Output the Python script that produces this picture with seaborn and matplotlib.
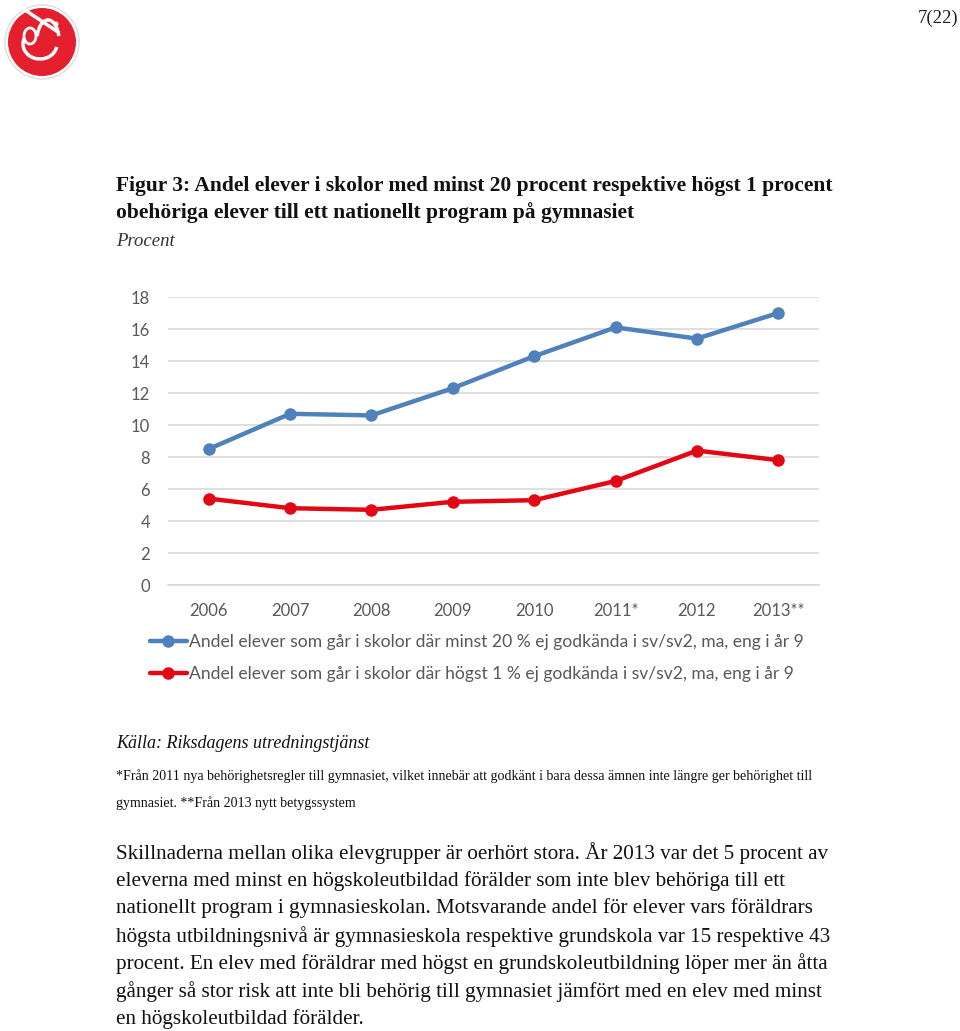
import matplotlib
matplotlib.use("Agg")
import matplotlib.pyplot as plt
import seaborn as sns
import pandas as pd
from matplotlib.patches import Circle, Arc
from matplotlib.lines import Line2D

years = ["2006", "2007", "2008", "2009", "2010", "2011*", "2012", "2013**"]
blue_vals = [8.5, 10.7, 10.6, 12.3, 14.3, 16.1, 15.4, 17.0]
red_vals = [5.4, 4.8, 4.7, 5.2, 5.3, 6.5, 8.4, 7.8]
series_names = [
    "Andel elever som går i skolor där minst 20 % ej godkända i sv/sv2, ma, eng i år 9",
    "Andel elever som går i skolor där högst 1 % ej godkända i sv/sv2, ma, eng i år 9",
]
yticks = [0, 2, 4, 6, 8, 10, 12, 14, 16, 18]

sns.set_theme(style="white")
plt.rcParams['font.family'] = ['Lato', 'DejaVu Sans']

df = pd.DataFrame({
    "year": years * 2,
    "value": blue_vals + red_vals,
    "series": [series_names[0]] * len(years) + [series_names[1]] * len(years),
})

BLUE = "#4F81BD"
RED = "#E30613"

fig = plt.figure(figsize=(9.6, 10.31), dpi=100)
ax = fig.add_axes([168/960, 1-585/1031, 651/960, 288/1031])

sns.lineplot(data=df, x="year", y="value", hue="series", palette=[BLUE, RED],
             marker="o", markersize=9, markeredgewidth=0, linewidth=3.2,
             sort=False, ax=ax, legend=False)

ax.set_xlim(-0.5, len(years) - 0.5)
ax.set_ylim(0, 18)
ax.set_yticks(yticks)
ax.set_yticklabels([str(t) for t in yticks])
ax.set_xlabel("")
ax.set_ylabel("")
for s in ["top", "right", "left"]:
    ax.spines[s].set_visible(False)
ax.spines["bottom"].set_color("#D9D9D9")
ax.spines["bottom"].set_linewidth(1.2)
ax.yaxis.grid(True, color="#D9D9D9", linewidth=1.2)
ax.set_axisbelow(True)
ax.tick_params(axis="y", length=0, labelsize=12, labelcolor="#595959", pad=13)
ax.tick_params(axis="x", length=0, labelsize=12, labelcolor="#595959", pad=13)
# category boundary ticks
ax.set_xticks([i - 0.5 for i in range(len(years) + 1)], minor=True)
ax.tick_params(axis="x", which="minor", length=5, color="#D9D9D9", width=1.2)

handles = [Line2D([], [], color=BLUE, lw=3.2, marker="o", markersize=9, markeredgewidth=0),
           Line2D([], [], color=RED, lw=3.2, marker="o", markersize=9, markeredgewidth=0)]
fig.legend(handles, series_names, loc="upper left",
           bbox_to_anchor=(150/960, 1-634/1031), bbox_transform=fig.transFigure,
           frameon=False, fontsize=12.6, labelcolor="#595959",
           handlelength=2.1, handletextpad=0.15, labelspacing=0.92,
           borderpad=0, borderaxespad=0)

serif = ['Liberation Serif', 'DejaVu Serif']

# Page number
fig.text(958/960, 1-18/1031, "7(22)", ha="right", va="center", fontsize=13.5,
         family=serif, color="#222222")

# Title
fig.text(116/960, 1-186/1031,
         "Figur 3: Andel elever i skolor med minst 20 procent respektive högst 1 procent",
         ha="left", va="center", fontsize=15.5, fontweight="bold", family=serif, color="#111111")
fig.text(116/960, 1-213/1031,
         "obehöriga elever till ett nationellt program på gymnasiet",
         ha="left", va="center", fontsize=15.5, fontweight="bold", family=serif, color="#111111")
fig.text(116/960, 1-241/1031, "Procent", ha="left", va="center", fontsize=13.5,
         style="italic", family=serif, color="#333333")

# Source and footnotes
fig.text(116/960, 1-744/1031, "Källa: Riksdagens utredningstjänst", ha="left", va="center",
         fontsize=13.0, style="italic", family=serif, color="#111111")
fig.text(116/960, 1-776/1031,
         "*Från 2011 nya behörighetsregler till gymnasiet, vilket innebär att godkänt i bara dessa ämnen inte längre ger behörighet till",
         ha="left", va="center", fontsize=10.1, family=serif, color="#111111")
fig.text(116/960, 1-803/1031, "gymnasiet. **Från 2013 nytt betygssystem",
         ha="left", va="center", fontsize=10.1, family=serif, color="#111111")

para = [
    "Skillnaderna mellan olika elevgrupper är oerhört stora. År 2013 var det 5 procent av",
    "eleverna med minst en högskoleutbildad förälder som inte blev behöriga till ett",
    "nationellt program i gymnasieskolan. Motsvarande andel för elever vars föräldrars",
    "högsta utbildningsnivå är gymnasieskola respektive grundskola var 15 respektive 43",
    "procent. En elev med föräldrar med högst en grundskoleutbildning löper mer än åtta",
    "gånger så stor risk att inte bli behörig till gymnasiet jämfört med en elev med minst",
    "en högskoleutbildad förälder.",
]
for i, line in enumerate(para):
    y = 853 + i * 27.7
    fig.text(116/960, 1-y/1031, line, ha="left", va="center", fontsize=15.2,
             family=serif, color="#111111")

# Logo (simple rose emblem)
lax = fig.add_axes([0/960, 1-82/1031, 82/960, 82/1031])
lax.set_xlim(0, 82)
lax.set_ylim(82, 0)
lax.set_aspect("equal")
lax.axis("off")
lax.add_patch(Circle((42, 42), 37, facecolor="white", edgecolor="#DDDDDD", lw=1))
lax.add_patch(Circle((42, 42), 34, facecolor="#E4202E", edgecolor="none"))
lax.add_patch(Arc((40, 44), 34, 30, theta1=10, theta2=200, color="white", lw=2.5))
lax.add_patch(Arc((30, 36), 12, 16, theta1=0, theta2=360, color="white", lw=2))
lax.add_patch(Arc((48, 40), 22, 40, theta1=200, theta2=340, color="white", lw=2.5))
lax.add_patch(Circle((56, 24), 2.5, facecolor="white", edgecolor="none"))
lax.plot([22, 58], [8, 32], color="white", lw=2.5)

fig.savefig("out.png", dpi=100)
